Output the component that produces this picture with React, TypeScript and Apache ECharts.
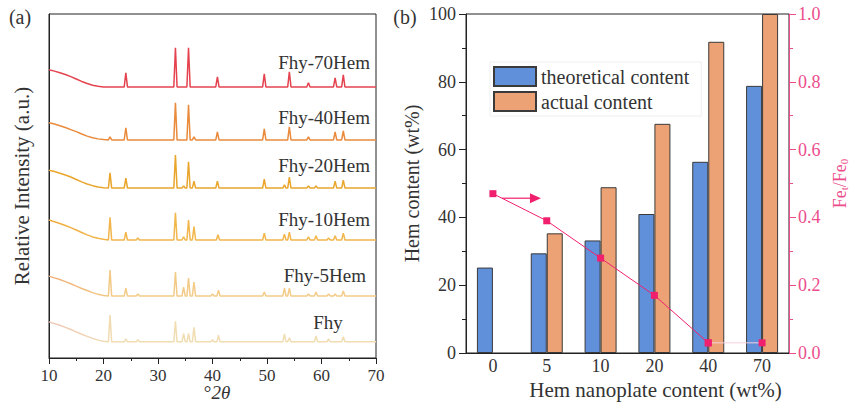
import React, { useEffect, useRef } from 'react';
import * as echarts from 'echarts';

// ---------- Panel (a): XRD patterns ----------
const SAMPLES = ['Fhy-70Hem', 'Fhy-40Hem', 'Fhy-20Hem', 'Fhy-10Hem', 'Fhy-5Hem', 'Fhy'];
const SAMPLE_COLORS = ['#e4424e', '#e98a3c', '#e9a52c', '#f1b64c', '#f3cb88', '#f1ddb2'];
const SAMPLE_COLORS_LEFT = ['#e4424e', '#e98a3c', '#e9a52c', '#f0ae40', '#efb07a', '#f0c6b6'];
const OFFSETS = [78.8, 63.4, 49.4, 34.3, 18.0, 4.7];

const HUMP_X = [10, 11, 12, 13, 14, 15, 16, 17, 18, 19, 20, 21];
const HUMP_70 = [5.0, 4.6, 4.1, 3.6, 3.0, 2.3, 1.6, 1.0, 0.5, 0.2, 0, 0];
const HUMP_40 = [5.0, 4.6, 4.1, 3.6, 3.0, 2.4, 1.7, 1.1, 0.6, 0.3, 0.1, 0];
const HUMP_20 = [5.2, 4.8, 4.3, 3.8, 3.2, 2.5, 1.8, 1.2, 0.7, 0.3, 0.1, 0];
const HUMP_10 = [5.8, 5.3, 4.8, 4.2, 3.6, 2.9, 2.2, 1.5, 0.9, 0.5, 0.2, 0];
const HUMP_5 = [5.8, 5.3, 4.8, 4.2, 3.6, 2.9, 2.2, 1.6, 1.0, 0.5, 0.2, 0];
const HUMP_F = [5.8, 5.3, 4.8, 4.2, 3.6, 2.9, 2.2, 1.6, 1.0, 0.5, 0.2, 0];

// [2theta, height above baseline]
const PEAKS_70 = [[24.1, 4.1], [33.2, 11.4], [35.6, 11.4], [40.9, 2.9], [49.5, 3.8], [54.1, 4.4], [57.6, 1.2], [62.5, 2.6], [64.0, 3.5]];
const PEAKS_40 = [[21.2, 0.9], [24.1, 3.5], [33.2, 10.8], [35.6, 10.2], [36.6, 0.9], [40.9, 2.3], [49.5, 3.2], [54.1, 3.8], [57.6, 0.9], [62.5, 2.3], [64.0, 2.6]];
const PEAKS_20 = [[21.2, 4.4], [24.1, 2.9], [33.2, 9.6], [34.7, 0.6], [35.6, 7.6], [36.6, 2.0], [40.9, 2.0], [49.5, 2.6], [53.2, 0.9], [54.1, 3.2], [57.6, 0.6], [59.0, 0.6], [62.5, 2.0], [64.0, 2.3]];
const PEAKS_10 = [[21.2, 6.6], [24.1, 2.3], [26.3, 0.6], [33.2, 7.9], [34.7, 0.9], [35.6, 5.8], [36.6, 3.9], [41.0, 1.5], [49.5, 2.0], [53.2, 1.7], [54.1, 2.3], [57.6, 0.9], [59.0, 1.2], [61.3, 0.6], [62.5, 1.2], [64.0, 2.0]];
const PEAKS_5 = [[21.2, 7.6], [24.1, 2.3], [26.3, 0.6], [33.2, 7.0], [34.7, 2.6], [35.6, 5.2], [36.6, 4.1], [40.0, 0.6], [41.1, 1.7], [49.5, 1.2], [53.2, 2.3], [54.1, 2.3], [57.6, 0.6], [59.0, 1.2], [61.3, 0.6], [62.5, 0.6], [64.0, 1.5]];
const PEAKS_F = [[21.2, 7.8], [24.1, 0.9], [26.3, 0.6], [33.2, 6.0], [34.7, 2.4], [35.6, 2.4], [36.6, 4.2], [40.0, 0.6], [41.1, 1.9], [53.2, 2.3], [54.1, 1.2], [59.0, 1.7], [61.3, 0.9], [64.0, 1.5]];

const HUMPS = [HUMP_70, HUMP_40, HUMP_20, HUMP_10, HUMP_5, HUMP_F];
const PEAKS = [PEAKS_70, PEAKS_40, PEAKS_20, PEAKS_10, PEAKS_5, PEAKS_F];
const XRD_TICKS = { min: 10, max: 70, interval: 10 };

// ---------- Panel (b): Hem content ----------
const CONTENT_CATS = ['0', '5', '10', '20', '40', '70'];
const THEORETICAL = [25.2, 29.4, 33.2, 41.0, 56.4, 78.8];
const ACTUAL = [null, 35.3, 48.9, 67.6, 91.8, 100];
const FE_RATIO = [0.47, 0.39, 0.28, 0.17, 0.03, 0.03];

const SERIF = '"Liberation Serif", "Times New Roman", serif';
const PINK = '#ec4d8c';
const PINK_DOT = '#f0206e';
const TXT = '#333';

function buildTrace(hump: number[], peaks: number[][], offset: number) {
  const pts: number[][] = HUMP_X.map((x, i) => [x, hump[i]]);
  peaks.forEach(([p, h]) => {
    pts.push([p - 0.3, 0], [p, h], [p + 0.3, 0]);
  });
  pts.push([XRD_TICKS.max, 0]);
  pts.sort((a, b) => a[0] - b[0]);
  return pts.map(([x, y]) => [x, +(y + offset).toFixed(2)]);
}

export default function App() {
  const ref = useRef<HTMLDivElement>(null);
  useEffect(() => {
    if (!ref.current) return;
    const chart = echarts.init(ref.current, null, { renderer: 'svg' });

    const xrdSeries = SAMPLES.map((name, i) => ({
      name,
      type: 'line',
      xAxisIndex: 0,
      yAxisIndex: 0,
      showSymbol: false,
      symbol: 'none',
      data: buildTrace(HUMPS[i], PEAKS[i], OFFSETS[i]),
      lineStyle: {
        width: 1.5,
        color: new echarts.graphic.LinearGradient(0, 0, 1, 0, [
          { offset: 0, color: SAMPLE_COLORS_LEFT[i] },
          { offset: 0.2, color: SAMPLE_COLORS[i] },
          { offset: 1, color: SAMPLE_COLORS[i] },
        ]),
      },
      silent: true,
    }));

    const option: any = {
      animation: false,
      textStyle: { fontFamily: SERIF },
      grid: [
        { left: 49, top: 14, width: 327, height: 344, outerBoundsMode: 'none', containLabel: false, show: true, borderColor: '#222', borderWidth: 1 },
        { left: 466, top: 14, width: 323, height: 339, outerBoundsMode: 'none', containLabel: false, show: true, borderColor: '#222', borderWidth: 1 },
      ],
      legend: {
        data: ['theoretical content', 'actual content'],
        orient: 'vertical',
        left: 490,
        top: 62,
        itemWidth: 42,
        itemHeight: 19,
        itemGap: 4,
        padding: [4, 12, 4, 3],
        borderColor: '#eeeeee',
        borderWidth: 1,
        icon: 'rect',
        textStyle: { fontFamily: SERIF, fontSize: 20, color: TXT },
      },
      xAxis: [
        {
          type: 'value',
          gridIndex: 0,
          min: XRD_TICKS.min,
          max: XRD_TICKS.max,
          interval: XRD_TICKS.interval,
          axisLine: { show: true, lineStyle: { color: '#222' } },
          axisTick: { show: true, inside: false, length: 6, lineStyle: { color: '#222' } },
          minorTick: { show: true, splitNumber: 2, length: 3, lineStyle: { color: '#222' } },
          splitLine: { show: false },
          axisLabel: { fontFamily: SERIF, fontSize: 17, color: TXT, margin: 9 },
        },
        {
          type: 'category',
          gridIndex: 1,
          data: CONTENT_CATS,
          axisLine: { show: true, lineStyle: { color: '#222' } },
          axisTick: { show: false },
          axisLabel: { fontFamily: SERIF, fontSize: 18, color: TXT, margin: 4 },
          name: 'Hem nanoplate content (wt%)',
          nameLocation: 'middle',
          nameGap: 22,
          nameTextStyle: { fontFamily: SERIF, fontSize: 21, color: TXT, padding: [0, 0, 0, 56] },
        },
      ],
      yAxis: [
        {
          type: 'value',
          gridIndex: 0,
          min: 0,
          max: 100,
          axisLine: { show: true, lineStyle: { color: '#222' } },
          axisTick: { show: false },
          axisLabel: { show: false },
          splitLine: { show: false },
          name: 'Relative Intensity (a.u.)',
          nameLocation: 'middle',
          nameRotate: 90,
          nameGap: 17,
          nameTextStyle: { fontFamily: SERIF, fontSize: 21, color: TXT },
        },
        {
          type: 'value',
          gridIndex: 1,
          min: 0,
          max: 100,
          interval: 20,
          axisLine: { show: true, lineStyle: { color: '#222' } },
          axisTick: { show: true, inside: false, length: 7, lineStyle: { color: '#222' } },
          minorTick: { show: true, splitNumber: 2, length: 4, lineStyle: { color: '#222' } },
          splitLine: { show: false },
          axisLabel: { fontFamily: SERIF, fontSize: 18, color: TXT, margin: 10 },
          name: 'Hem content (wt%)',
          nameLocation: 'middle',
          nameRotate: 90,
          nameGap: 44,
          nameTextStyle: { fontFamily: SERIF, fontSize: 20, color: TXT },
        },
        {
          type: 'value',
          gridIndex: 1,
          position: 'right',
          min: 0,
          max: 1,
          interval: 0.2,
          axisLine: { show: true, lineStyle: { color: PINK } },
          axisTick: { show: true, inside: false, length: 7, lineStyle: { color: PINK } },
          minorTick: { show: true, splitNumber: 2, length: 4, lineStyle: { color: PINK } },
          splitLine: { show: false },
          axisLabel: {
            fontFamily: SERIF,
            fontSize: 18,
            color: PINK,
            margin: 9,
            formatter: (v: number) => v.toFixed(1),
          },
          name: '{n|Fe}{s|t}{n|/Fe}{s|0}',
          nameLocation: 'middle',
          nameRotate: 90,
          nameGap: 42,
          nameTextStyle: {
            color: PINK,
            fontFamily: SERIF,
            fontSize: 18,
            lineHeight: 18,
            rich: {
              n: { fontFamily: SERIF, fontSize: 18, color: PINK, lineHeight: 18 },
              s: { fontFamily: SERIF, fontSize: 11, color: PINK, verticalAlign: 'bottom', lineHeight: 14 },
            },
          },
        },
      ],
      series: [
        ...xrdSeries,
        {
          name: 'theoretical content',
          type: 'bar',
          xAxisIndex: 1,
          yAxisIndex: 1,
          data: THEORETICAL,
          barWidth: 16,
          barGap: '0%',
          itemStyle: { color: '#6090da', borderColor: '#3a3a3a', borderWidth: 1 },
        },
        {
          name: 'actual content',
          type: 'bar',
          xAxisIndex: 1,
          yAxisIndex: 1,
          data: ACTUAL,
          barWidth: 16,
          barGap: '0%',
          itemStyle: { color: '#eca274', borderColor: '#3a3a3a', borderWidth: 1 },
        },
        {
          name: 'FeRatioTail',
          type: 'line',
          xAxisIndex: 1,
          yAxisIndex: 2,
          data: FE_RATIO.map((v, i) => (i >= 4 ? v : null)),
          symbol: 'rect',
          symbolSize: 7,
          itemStyle: { color: PINK_DOT },
          lineStyle: { color: '#f8d0de', width: 1 },
          z: 4,
        },
        {
          name: 'FeRatio',
          type: 'line',
          xAxisIndex: 1,
          yAxisIndex: 2,
          data: FE_RATIO.map((v, i) => (i <= 4 ? v : null)),
          symbol: 'rect',
          symbolSize: 7,
          itemStyle: { color: PINK_DOT },
          lineStyle: { color: PINK_DOT, width: 1 },
          z: 5,
        },
      ],
    };
    chart.setOption(option);

    // Annotations: sample labels, panel letters, axis title, arrow from first Fe point
    const lineIdx = option.series.length - 1;
    const p0 = chart.convertToPixel({ seriesIndex: lineIdx }, [0, FE_RATIO[0]]) as number[];
    const p1 = chart.convertToPixel({ seriesIndex: lineIdx }, [1, FE_RATIO[1]]) as number[];
    const ax = p0[0] + 9;
    const ay = p0[1] + ((p1[1] - p0[1]) / (p1[0] - p0[0])) * 9;
    const aEnd = ax + 39;

    const labelPos: { x: number; y: number; align: string }[] = [
      { x: 370, y: 62, align: 'right' },
      { x: 370, y: 117, align: 'right' },
      { x: 370, y: 165, align: 'right' },
      { x: 370, y: 219, align: 'right' },
      { x: 366, y: 275, align: 'right' },
      { x: 328, y: 322, align: 'center' },
    ];
    const graphics: any[] = SAMPLES.map((s, i) => ({
      type: 'text',
      x: labelPos[i].x,
      y: labelPos[i].y,
      silent: true,
      style: {
        text: s,
        fill: TXT,
        font: `19px ${SERIF}`,
        textAlign: labelPos[i].align,
        textVerticalAlign: 'middle',
      },
    }));
    graphics.push(
      { type: 'text', x: 20, y: 17, style: { text: '(a)', fill: TXT, font: `20px ${SERIF}`, textAlign: 'center', textVerticalAlign: 'middle' } },
      { type: 'text', x: 405, y: 17, style: { text: '(b)', fill: TXT, font: `20px ${SERIF}`, textAlign: 'center', textVerticalAlign: 'middle' } },
      {
        type: 'text',
        x: 217,
        y: 392,
        style: {
          text: '°{i|2θ}',
          fill: TXT,
          font: `19px ${SERIF}`,
          textAlign: 'center',
          textVerticalAlign: 'middle',
          rich: { i: { fontFamily: SERIF, fontSize: 19, fontStyle: 'italic', fill: TXT } },
        },
      },
      { type: 'line', shape: { x1: ax, y1: ay, x2: aEnd - 8, y2: ay }, style: { stroke: PINK_DOT, lineWidth: 1.2 }, z: 10 },
      { type: 'polygon', shape: { points: [[aEnd - 11, ay - 5], [aEnd, ay], [aEnd - 11, ay + 5]] }, style: { fill: PINK_DOT }, z: 10 },
    );
    chart.setOption({ graphic: graphics });

    return () => chart.dispose();
  }, []);

  return (
    <div
      ref={ref}
      style={{ position: 'fixed', left: 0, top: 0, width: 855, height: 404, background: '#fff' }}
    />
  );
}
